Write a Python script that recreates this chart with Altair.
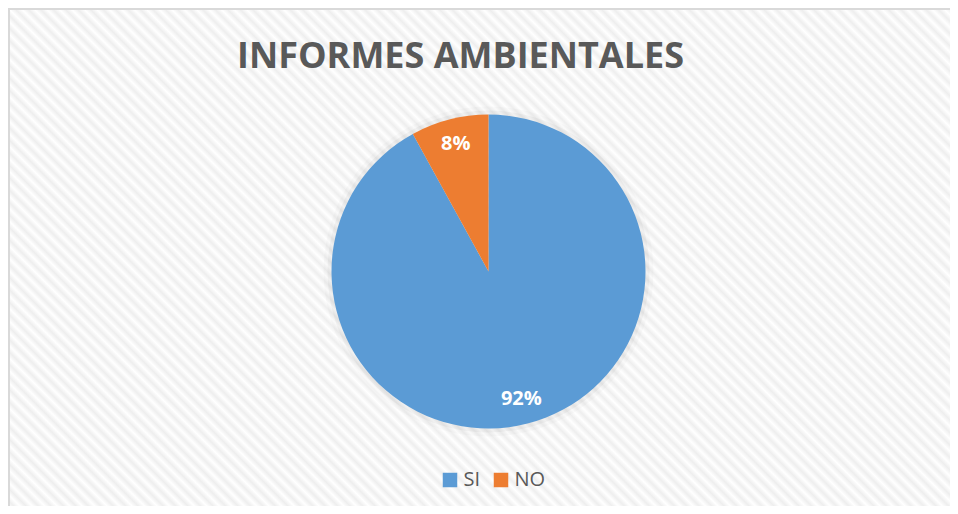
import altair as alt
import pandas as pd

# ---- data ----
categories = ["SI", "NO"]
values = [92, 8]
labels = ["92%", "8%"]
order = [1, 2]
colors = ["#5B9BD5", "#ED7D31"]

df = pd.DataFrame({"cat": categories, "val": values, "label": labels, "ord": order})

# ---- hatched background (style only) ----
n_periods = 154
stops = [
    alt.GradientStop(offset=i / (2 * n_periods), color="#ffffff" if i % 2 == 0 else "#eeeeee")
    for i in range(2 * n_periods + 1)
]
hatch = alt.LinearGradient(gradient="linear", stops=stops, x1=0, y1=1, x2=1, y2=0)

one = alt.Data(values=[{"k": 1}])

bg = alt.Chart(one).mark_rect(fill=hatch, clip=True).encode(
    x=alt.value(0), x2=alt.value(960), y=alt.value(0), y2=alt.value(960)
)

# chart frame: only left and top edges are visible in the reference
frame_left = alt.Chart(one).mark_rule(color="#d9d9d9", strokeWidth=2).encode(
    x=alt.value(-1), y=alt.value(-2), y2=alt.value(496)
)
frame_top = alt.Chart(one).mark_rule(color="#d9d9d9", strokeWidth=2).encode(
    y=alt.value(-1), x=alt.value(-2), x2=alt.value(940)
)

cx, cy = 478.5, 261.5

base = alt.Chart(df).encode(
    theta=alt.Theta("val:Q", stack=True),
    order=alt.Order("ord:Q"),
    x=alt.value(cx),
    y=alt.value(cy),
)

glow1 = base.mark_arc(radius=165, fill="#000000", opacity=0.02)
glow2 = base.mark_arc(radius=161, fill="#000000", opacity=0.035)

pie = base.mark_arc(radius=157).encode(
    color=alt.Color(
        "cat:N",
        scale=alt.Scale(domain=categories, range=colors),
        legend=alt.Legend(
            title=None,
            orient="none",
            legendX=430,
            legendY=460,
            direction="horizontal",
            symbolType="square",
            symbolSize=210,
            symbolStrokeWidth=0,
            labelFont="Open Sans",
            labelFontSize=20,
            labelColor="#595959",
            labelOffset=3.5,
            columnPadding=10,
            padding=0,
        ),
    )
)

text = base.mark_text(
    radius=132, font="Open Sans", fontSize=20, fontWeight="bold", color="white", baseline="middle", align="center"
).encode(text="label:N")

chart = alt.layer(bg, frame_left, frame_top, glow1, glow2, pie, text).properties(
    width=940,
    height=496,
    title=alt.Title(
        "INFORMES AMBIENTALES",
        font="Open Sans",
        fontSize=36,
        fontWeight="bold",
        color="#595959",
        anchor="middle",
        dx=-19.5,
        dy=96.6,
        offset=0,
        baseline="alphabetic",
    ),
    autosize=alt.AutoSizeParams(type="none"),
    padding={"left": 2, "top": 2, "right": 0, "bottom": 0},
    background="white",
).configure_view(stroke="transparent", strokeWidth=0)

chart.save("out.html", embed_options={"renderer": "svg", "actions": False})
